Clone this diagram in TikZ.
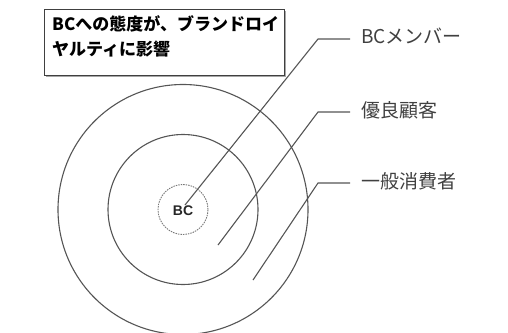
\documentclass[tikz,border=0pt]{standalone}
\usepackage{fontspec}
\newfontfamily\jpfont{Noto Sans CJK JP}
\newfontfamily\bcfont{Liberation Sans}
\definecolor{linegray}{HTML}{555555}
\definecolor{textgray}{HTML}{404040}
\begin{document}
\begin{tikzpicture}[x=1pt,y=-1pt,
  ring/.style={circle, draw=linegray, line width=1.1pt, inner sep=0pt},
  leader/.style={draw=linegray, line width=1.1pt},
  lbl/.style={anchor=west, inner sep=0pt, text=textgray, font=\jpfont\fontsize{19}{22}\selectfont},
]
\useasboundingbox (0,0) rectangle (508,332);
\coordinate (c) at (183,209.5);
\node[ring, minimum size=250pt] (outer) at (c) {};
\node[ring, minimum size=150pt] (middle) at (c) {};
\node[circle, draw=linegray!80, line width=0.9pt, dash pattern=on 1.5pt off 1pt, minimum size=50pt, inner sep=0pt] (inner) at (c) {};
\node[inner sep=0pt, font=\bcfont\bfseries\fontsize{14}{16}\selectfont, text=black!85] (bc) at (183,211) {BC};

% title box
\fill[black!35] (46,11) rectangle (286,77);
\node[draw=black!75, fill=white, line width=1pt, minimum width=240pt, minimum height=66pt, inner sep=0pt] (box) at (164,42) {};
\node[anchor=north west, inner sep=0pt, align=left, font=\jpfont\bfseries\fontsize{17}{25}\selectfont] (title) at (52,15) {BCへの態度が、ブランドロイ\\ヤルティに影響};

% labels
\node[lbl] (l1) at (361,36) {BCメンバー};
\node[lbl] (l2) at (361,110) {優良顧客};
\node[lbl] (l3) at (361,181) {一般消費者};

\coordinate (e1) at (185,205);
\coordinate (e2) at (218,245);
\coordinate (e3) at (253,280);
\coordinate (k1) at (318,39);
\coordinate (k2) at (318,112);
\coordinate (k3) at (318,183);
\coordinate (h1) at (350,39);
\coordinate (h2) at (350,112);
\coordinate (h3) at (350,183);

\draw[leader] (e1) -- (k1) -- (h1);
\draw[leader] (e2) -- (k2) -- (h2);
\draw[leader] (e3) -- (k3) -- (h3);
\end{tikzpicture}
\end{document}
